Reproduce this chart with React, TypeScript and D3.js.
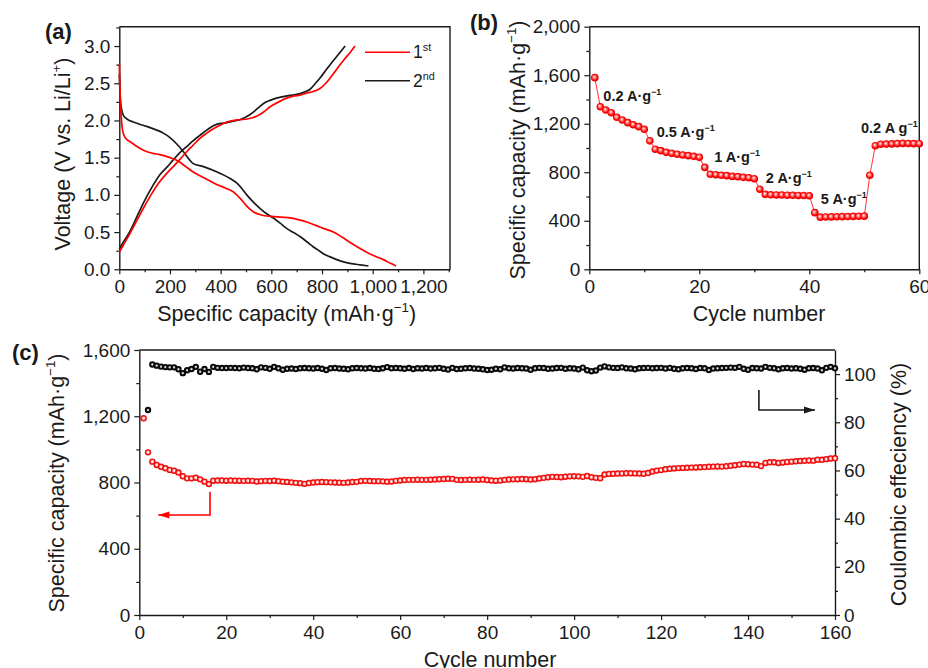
import { useEffect, useRef } from 'react';
import * as d3 from 'd3';

const FONT = 'Liberation Sans, Arial, Helvetica, sans-serif';

// (a) galvanostatic profiles, [capacity mAh/g, voltage V]
const discharge1st: [number, number][] = [
  [0, 2.76], [2, 2.5], [5, 2.2], [10, 1.95], [16, 1.82], [28, 1.75], [45, 1.71], [70, 1.65], [95, 1.6],
  [130, 1.56], [160, 1.54], [200, 1.5], [230, 1.46], [266, 1.37], [300, 1.29], [340, 1.22], [384, 1.14],
  [420, 1.09], [450, 1.04], [475, 0.96], [503, 0.85], [530, 0.77], [560, 0.73], [600, 0.71], [640, 0.7],
  [675, 0.69], [710, 0.665], [740, 0.635], [775, 0.59], [805, 0.55], [845, 0.5], [880, 0.43], [911, 0.36],
  [945, 0.29], [976, 0.23], [1010, 0.175], [1042, 0.13], [1070, 0.08], [1092, 0.045],
];
const discharge2nd: [number, number][] = [
  [0, 2.62], [3, 2.35], [8, 2.17], [16, 2.07], [30, 2.02], [55, 1.98], [80, 1.95], [108, 1.92], [140, 1.88],
  [174, 1.83], [200, 1.77], [225, 1.69], [253, 1.58], [275, 1.48], [292, 1.42], [332, 1.38], [384, 1.31],
  [437, 1.22], [463, 1.16], [485, 1.08], [503, 1.0], [530, 0.9], [555, 0.82], [580, 0.75], [608, 0.69],
  [635, 0.62], [660, 0.55], [690, 0.49], [713, 0.44], [740, 0.37], [766, 0.3], [790, 0.245], [805, 0.21],
  [830, 0.17], [858, 0.13], [885, 0.1], [911, 0.08], [950, 0.06], [983, 0.045],
];
const charge1st: [number, number][] = [
  [0, 0.23], [15, 0.32], [42, 0.48], [70, 0.66], [95, 0.82], [125, 1.0], [160, 1.18], [190, 1.3], [213, 1.38],
  [240, 1.48], [266, 1.58], [292, 1.67], [318, 1.76], [345, 1.83], [371, 1.89], [400, 1.94], [424, 1.98],
  [450, 2.0], [476, 2.01], [505, 2.02], [529, 2.04], [550, 2.07], [568, 2.11], [590, 2.17], [608, 2.21],
  [635, 2.26], [660, 2.3], [690, 2.33], [713, 2.34], [740, 2.37], [766, 2.39], [792, 2.43], [815, 2.5],
  [832, 2.57], [852, 2.66], [871, 2.75], [890, 2.83], [910, 2.91], [930, 3.0],
];
const charge2nd: [number, number][] = [
  [0, 0.27], [15, 0.36], [42, 0.51], [70, 0.71], [95, 0.89], [125, 1.08], [160, 1.27], [190, 1.38], [213, 1.47],
  [240, 1.57], [266, 1.65], [292, 1.73], [318, 1.8], [345, 1.87], [371, 1.93], [400, 1.96], [424, 1.97],
  [450, 1.99], [476, 2.01], [496, 2.04], [516, 2.08], [535, 2.13], [555, 2.19], [575, 2.24], [595, 2.27],
  [620, 2.3], [647, 2.32], [680, 2.34], [713, 2.36], [735, 2.39], [753, 2.42], [772, 2.49], [792, 2.57],
  [812, 2.66], [832, 2.75], [858, 2.86], [875, 2.93], [891, 3.0],
];

// (b) rate performance, cycles 1..60 (mAh/g)
const rateCapacity = [
  1580, 1340, 1313, 1291, 1253, 1231, 1209, 1192, 1176, 1154,
  1059, 990, 978, 964, 956, 948, 942, 937, 931, 923,
  840, 783, 780, 775, 772, 766, 764, 758, 755, 747,
  660, 618, 614, 613, 612, 611, 610, 609, 608, 606,
  467, 430, 431, 432, 433, 434, 435, 436, 437, 438,
  775, 1019, 1031, 1032, 1034, 1036, 1038, 1037, 1036, 1035,
];
const rateLabels = [
  { rate: '0.2 A·g', cycle: 2.55, cap: 1390 },
  { rate: '0.5 A·g', cycle: 12.25, cap: 1093 },
  { rate: '1 A·g', cycle: 22.7, cap: 885 },
  { rate: '2 A·g', cycle: 32.1, cap: 714 },
  { rate: '5 A·g', cycle: 42.1, cap: 538 },
  { rate: '0.2 A g', cycle: 49.4, cap: 1126 },
];

// (c) long cycling, capacity cycles 1..160 (mAh/g)
const cycleCapacity = [
  1188, 982, 926, 906, 895, 886, 876, 871, 860, 838,
  825, 825, 829, 819, 805, 791, 811, 812, 812, 811,
  812, 811, 811, 810, 811, 810, 806, 808, 810, 809,
  811, 808, 805, 803, 801, 798, 796, 792, 797, 800,
  802, 803, 802, 801, 800, 799, 798, 800, 803, 804,
  809, 810, 809, 808, 808, 807, 805, 806, 810, 812,
  815, 816, 816, 817, 816, 816, 817, 818, 820, 821,
  823, 822, 816, 815, 816, 817, 816, 817, 818, 815,
  812, 811, 812, 816, 818, 819, 820, 821, 820, 818,
  820, 824, 828, 832, 834, 833, 832, 835, 837, 838,
  837, 834, 839, 832, 828, 826, 848, 852, 853, 854,
  855, 856, 856, 855, 854, 853, 857, 866, 872, 875,
  880, 883, 885, 887, 888, 889, 890, 891, 892, 893,
  895, 896, 897, 896, 898, 901, 904, 908, 912, 910,
  908, 907, 899, 918, 922, 922, 918, 921, 924, 926,
  928, 930, 931, 933, 932, 938, 937, 941, 945, 946,
];
// coulombic efficiency, cycles 2..160 (%)
const ceFirstCycle = 2;
const coulombicEff = [
  85.1, 104.0, 103.5, 103.1, 102.9, 102.8, 102.8, 102.0, 100.4, 101.6, 102.1, 103.0, 101.0, 102.1, 100.9, 103.0,
  102.6, 102.5, 102.5, 102.6, 102.5, 102.4, 102.7, 102.5, 102.4, 102.0,
  102.8, 102.6, 102.2, 103.0, 102.4, 101.8, 102.2, 102.3, 102.1, 102.4,
  102.5, 102.4, 102.3, 102.5, 102.2, 101.7, 102.4, 102.5, 102.3, 102.2,
  102.0, 102.4, 102.5, 102.4, 102.3, 102.5, 102.2, 102.1, 102.4, 102.9,
  102.4, 102.5, 102.4, 102.2, 102.5, 102.1, 102.4, 102.3, 102.5, 102.3,
  102.4, 102.6, 102.2, 101.9, 102.6, 102.1, 102.2, 102.4, 102.5, 102.3,
  102.2, 102.0, 101.7, 101.8, 102.2, 102.0, 102.8, 102.4, 102.3, 102.5,
  102.4, 102.3, 101.8, 102.4, 102.6, 102.5, 102.2, 102.3, 102.5, 102.6,
  102.2, 102.4, 102.3, 102.0, 102.7, 101.6, 101.2, 101.5, 102.7, 103.2,
  102.8, 102.6, 102.5, 102.8, 102.4, 102.3, 102.0, 102.4, 102.5, 102.6,
  102.4, 102.5, 102.6, 102.3, 102.6, 102.2, 102.0, 102.4, 102.5, 102.4,
  102.1, 102.5, 102.4, 101.7, 102.3, 102.4, 102.5, 102.6, 102.7, 102.6,
  103.0, 102.2, 101.8, 102.5, 102.4, 102.3, 103.0, 102.6, 102.4, 102.0,
  102.4, 102.5, 102.3, 102.4, 102.2, 101.8, 102.4, 102.5, 102.3, 101.6,
  102.6, 103.0, 102.4,
];

const RED = '#ff0000';
const INK = '#1a1a1a';

type Part = { t: string; sup?: boolean };

// writes text with superscript pieces as tspans
function rich(text: any, parts: Part[], size: number) {
  let shift = 0;
  parts.forEach(p => {
    const target = p.sup ? -size * 0.4 : 0;
    text.append('tspan')
      .attr('dy', target - shift)
      .attr('font-size', p.sup ? size * 0.62 : size)
      .text(p.t);
    shift = target;
  });
}

function axis(g: any, scale: any, orient: string, pos: number, majors: number[], minors: number[], fmt: (d: number) => string, pad: number) {
  const make = orient === 'bottom' ? d3.axisBottom : orient === 'left' ? d3.axisLeft : d3.axisRight;
  const tr = orient === 'bottom' ? `translate(0,${pos})` : `translate(${pos},0)`;
  const minor = g.append('g').attr('transform', tr)
    .call(make(scale).tickValues(minors).tickSize(3).tickSizeOuter(0).tickFormat(() => ''));
  minor.select('.domain').remove();
  minor.selectAll('line').attr('stroke', INK).attr('stroke-width', 1.2);
  const major = g.append('g').attr('transform', tr)
    .call(make(scale).tickValues(majors).tickSize(5).tickSizeOuter(0).tickPadding(pad).tickFormat(fmt as any));
  major.select('.domain').attr('stroke', INK).attr('stroke-width', 1.4);
  major.selectAll('line').attr('stroke', INK).attr('stroke-width', 1.2);
  major.selectAll('text').attr('font-family', FONT).attr('font-size', 19).attr('fill', INK);
}

const App = () => {
  const ref = useRef<SVGSVGElement>(null);

  useEffect(() => {
    const svg = d3.select(ref.current);
    svg.selectAll('*').remove();
    svg.attr('font-family', FONT);

    const defs = svg.append('defs');
    const ball = defs.append('radialGradient').attr('id', 'ball').attr('fx', 0.4).attr('fy', 0.38).attr('r', 0.6);
    ball.append('stop').attr('offset', '0%').attr('stop-color', '#ffffff');
    ball.append('stop').attr('offset', '30%').attr('stop-color', '#ff8080');
    ball.append('stop').attr('offset', '65%').attr('stop-color', '#ff0000');
    ball.append('stop').attr('offset', '100%').attr('stop-color', '#c00000');
    const redDot = defs.append('radialGradient').attr('id', 'redDot');
    redDot.append('stop').attr('offset', '0%').attr('stop-color', '#ffffff');
    redDot.append('stop').attr('offset', '35%').attr('stop-color', '#ffd0d0');
    redDot.append('stop').attr('offset', '65%').attr('stop-color', '#ff1a1a');
    redDot.append('stop').attr('offset', '100%').attr('stop-color', '#e00000');
    const blackDot = defs.append('radialGradient').attr('id', 'blackDot');
    blackDot.append('stop').attr('offset', '0%').attr('stop-color', '#ffffff');
    blackDot.append('stop').attr('offset', '25%').attr('stop-color', '#bbbbbb');
    blackDot.append('stop').attr('offset', '50%').attr('stop-color', '#111111');
    blackDot.append('stop').attr('offset', '100%').attr('stop-color', '#000000');

    // ---------------- (a)
    const a = svg.append('g');
    const ax = d3.scaleLinear().domain([0, 1305]).range([119.3, 450]);
    const ay = d3.scaleLinear().domain([0, 3.26]).range([269.3, 26.7]);
    a.append('path').attr('d', `M${ax.range()[0]},${ay.range()[1]}H${ax.range()[1]}V${ay.range()[0]}`)
      .attr('fill', 'none').attr('stroke', INK).attr('stroke-width', 1.4);
    axis(a, ax, 'bottom', ay.range()[0], d3.range(0, 1201, 200), d3.range(100, 1301, 200), d3.format(','), 5.5);
    axis(a, ay, 'left', ax.range()[0], d3.range(0, 3.01, 0.5), d3.range(0.25, 3.26, 0.5), d3.format('.1f'), 4);

    const lineA = d3.line<[number, number]>().x(d => ax(d[0])).y(d => ay(d[1])).curve(d3.curveMonotoneX);
    [[discharge2nd, INK], [charge2nd, INK], [discharge1st, RED], [charge1st, RED]].forEach(([d, c]: any) => {
      a.append('path').attr('d', lineA(d)).attr('fill', 'none').attr('stroke', c).attr('stroke-width', 1.7);
    });

    // legend
    [['1', 'st', RED, 52.3], ['2', 'nd', INK, 80.7]].forEach(([n, s, c, y]: any) => {
      a.append('line').attr('x1', 365).attr('x2', 410).attr('y1', y).attr('y2', y).attr('stroke', c).attr('stroke-width', 1.5);
      const t = a.append('text').attr('x', 413).attr('y', y + 6).attr('fill', INK);
      rich(t, [{ t: n }, { t: s, sup: true }], 17.5);
    });

    const ta = a.append('text').attr('x', 286.7).attr('y', 321).attr('text-anchor', 'middle').attr('fill', INK);
    rich(ta, [{ t: 'Specific capacity (mAh·g' }, { t: '−1', sup: true }, { t: ')' }], 21.5);
    const tay = a.append('text').attr('transform', 'translate(70,154) rotate(-90)').attr('text-anchor', 'middle').attr('fill', INK);
    rich(tay, [{ t: 'Voltage (V vs. Li/Li' }, { t: '+', sup: true }, { t: ')' }], 21.5);
    a.append('text').attr('x', 45).attr('y', 39).attr('font-size', 22).attr('font-weight', 'bold').attr('fill', INK).text('(a)');

    // ---------------- (b)
    const b = svg.append('g');
    const bx = d3.scaleLinear().domain([0, 60]).range([589.3, 919.3]);
    const by = d3.scaleLinear().domain([0, 2000]).range([269.3, 26.7]);
    b.append('path').attr('d', `M${bx.range()[0]},${by.range()[1]}H${bx.range()[1]}V${by.range()[0]}`)
      .attr('fill', 'none').attr('stroke', INK).attr('stroke-width', 1.4);
    axis(b, bx, 'bottom', by.range()[0], [0, 20, 40, 60], [10, 30, 50], d3.format('d'), 5.5);
    axis(b, by, 'left', bx.range()[0], d3.range(0, 2001, 400), d3.range(200, 1801, 400), d3.format(','), 4);

    const lineB = d3.line<number>().x((_, i) => bx(i + 1)).y(d => by(d));
    b.append('path').attr('d', lineB(rateCapacity)).attr('fill', 'none').attr('stroke', RED).attr('stroke-width', 0.8);
    b.selectAll('circle.rate').data(rateCapacity).enter().append('circle')
      .attr('cx', (_, i) => bx(i + 1)).attr('cy', d => by(d)).attr('r', 3.8)
      .attr('fill', 'url(#ball)');

    rateLabels.forEach(l => {
      const t = b.append('text').attr('x', bx(l.cycle)).attr('y', by(l.cap)).attr('font-weight', 'bold').attr('fill', INK);
      rich(t, [{ t: l.rate }, { t: '−1', sup: true }], 14.5);
    });

    b.append('text').attr('x', 759).attr('y', 321).attr('text-anchor', 'middle').attr('font-size', 21.5).attr('fill', INK).text('Cycle number');
    const tby = b.append('text').attr('transform', 'translate(525,150) rotate(-90)').attr('text-anchor', 'middle').attr('fill', INK);
    rich(tby, [{ t: 'Specific capacity (mAh·g' }, { t: '−1', sup: true }, { t: ')' }], 21.5);
    b.append('text').attr('x', 470).attr('y', 30).attr('font-size', 22).attr('font-weight', 'bold').attr('fill', INK).text('(b)');

    // ---------------- (c)
    const c = svg.append('g');
    const cx = d3.scaleLinear().domain([0, 160]).range([139.3, 835]);
    const cy = d3.scaleLinear().domain([0, 1600]).range([615, 350]);
    const cyR = d3.scaleLinear().domain([0, 110]).range([615, 350]);
    c.append('line').attr('x1', cx.range()[0]).attr('x2', cx.range()[1]).attr('y1', 350).attr('y2', 350)
      .attr('stroke', INK).attr('stroke-width', 1.4);
    axis(c, cx, 'bottom', 615, d3.range(0, 161, 20), d3.range(10, 151, 20), d3.format('d'), 6);
    axis(c, cy, 'left', cx.range()[0], d3.range(0, 1601, 400), d3.range(200, 1401, 400), d3.format(','), 4);
    axis(c, cyR, 'right', cx.range()[1], d3.range(0, 101, 20), d3.range(10, 91, 20), d3.format('d'), 4);

    c.selectAll('circle.cap').data(cycleCapacity).enter().append('circle')
      .attr('cx', (_, i) => cx(i + 1)).attr('cy', d => cy(d)).attr('r', 3.2)
      .attr('fill', 'url(#redDot)');
    c.selectAll('circle.ce').data(coulombicEff).enter().append('circle')
      .attr('cx', (_, i) => cx(i + ceFirstCycle)).attr('cy', d => cyR(d)).attr('r', 3.2)
      .attr('fill', 'url(#blackDot)');

    // guide arrows
    const arrow = (pts: [number, number][], color: string) => {
      c.append('path').attr('d', d3.line()(pts)).attr('fill', 'none').attr('stroke', color).attr('stroke-width', 1.6);
      const [x0, y0] = pts[pts.length - 1];
      const dir = Math.sign(x0 - pts[pts.length - 2][0]);
      c.append('path').attr('d', `M${x0},${y0}L${x0 - dir * 11},${y0 - 3.5}L${x0 - dir * 11},${y0 + 3.5}Z`).attr('fill', color);
    };
    arrow([[cx(16.26), cy(744)], [cx(16.26), cy(604)], [cx(4.37), cy(604)]], RED);
    arrow([[cx(142.5), cyR(93.4)], [cx(142.5), cyR(85.1)], [cx(155.4), cyR(85.1)]], INK);

    c.append('text').attr('x', 490).attr('y', 667).attr('text-anchor', 'middle').attr('font-size', 21.5).attr('fill', INK).text('Cycle number');
    const tcy = c.append('text').attr('transform', 'translate(63.5,483) rotate(-90)').attr('text-anchor', 'middle').attr('fill', INK);
    rich(tcy, [{ t: 'Specific capacity (mAh·g' }, { t: '−1', sup: true }, { t: ')' }], 21.5);
    c.append('text').attr('transform', 'translate(906,484.5) rotate(-90)').attr('text-anchor', 'middle')
      .attr('font-size', 21.5).attr('fill', INK).text('Coulombic effeciency (%)');
    c.append('text').attr('x', 12).attr('y', 360).attr('font-size', 22).attr('font-weight', 'bold').attr('fill', INK).text('(c)');
  }, []);

  return (
    <svg ref={ref} width={928} height={668} style={{ position: 'absolute', left: 0, top: 0, background: '#fff' }} />
  );
};

export default App;
